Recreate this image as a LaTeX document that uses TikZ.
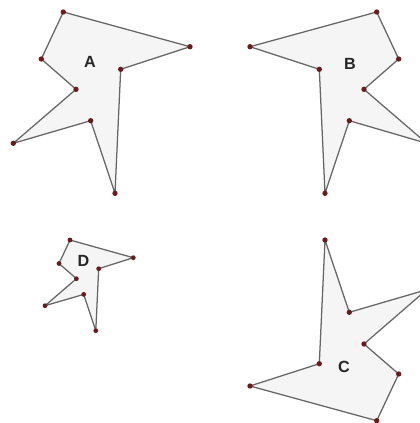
\documentclass[tikz,border=0pt]{standalone}
\usepackage{fontspec}
\setsansfont{Liberation Sans}
\usepackage{xcolor}
\usepackage{tikz}
\definecolor{edgegray}{HTML}{666666}
\definecolor{shapefill}{HTML}{F5F5F5}
\definecolor{dotred}{HTML}{6A1C1C}

\tikzset{
  polyshape/.style={draw=edgegray, fill=shapefill, line width=0.9pt, line join=round},
  vertex/.style={circle, fill=dotred, inner sep=0pt, minimum size=3.8pt},
  tag/.style={font=\sffamily\bfseries\fontsize{11.5}{13}\selectfont, text=black!85}
}

\begin{document}
\begin{tikzpicture}[x=0.025cm, y=-0.025cm]
    \useasboundingbox (0,0) rectangle (420,423);
    \clip (0,0) rectangle (420,423);

    % shape A
    \draw[polyshape] (63.3,12) -- (190,46.7) -- (120.7,69.3) -- (115,193.3) -- (90.7,120.7)
      -- (13.3,143.3) -- (76,89.3) -- (41.3,59) -- cycle;
    \foreach \p in {(63.3,12),(190,46.7),(120.7,69.3),(115,193.3),(90.7,120.7),(13.3,143.3),(76,89.3),(41.3,59)}
      \node[vertex] at \p {};
    \node[tag] (labA) at (90,62) {A};

    % shape B
    \draw[polyshape] (376.7,12) -- (250,46.7) -- (319.3,69.3) -- (325,193.3) -- (349.3,120.7)
      -- (426.7,143.3) -- (364,89.3) -- (398.7,59) -- cycle;
    \foreach \p in {(376.7,12),(250,46.7),(319.3,69.3),(325,193.3),(349.3,120.7),(364,89.3),(398.7,59)}
      \node[vertex] at \p {};
    \node[tag] (labB) at (350,64) {B};

    % shape C
    \draw[polyshape] (376.7,420.7) -- (250,386) -- (319.3,363.7) -- (325,240) -- (349.3,312.3)
      -- (426.7,289.7) -- (364,344) -- (398.7,374) -- cycle;
    \foreach \p in {(376.7,420.7),(250,386),(319.3,363.7),(325,240),(349.3,312.3),(364,344),(398.7,374)}
      \node[vertex] at \p {};
    \node[tag] (labC) at (344,367) {C};

    % shape D
    \draw[polyshape] (70,240) -- (133.3,257.7) -- (98.7,268.7) -- (95.8,330.7) -- (83.7,294.4)
      -- (45,305.7) -- (76.4,278.7) -- (59,263.5) -- cycle;
    \foreach \p in {(70,240),(133.3,257.7),(98.7,268.7),(95.8,330.7),(83.7,294.4),(45,305.7),(76.4,278.7),(59,263.5)}
      \node[vertex, minimum size=3.4pt] at \p {};
    \node[tag] (labD) at (83.5,261) {D};
\end{tikzpicture}
\end{document}
